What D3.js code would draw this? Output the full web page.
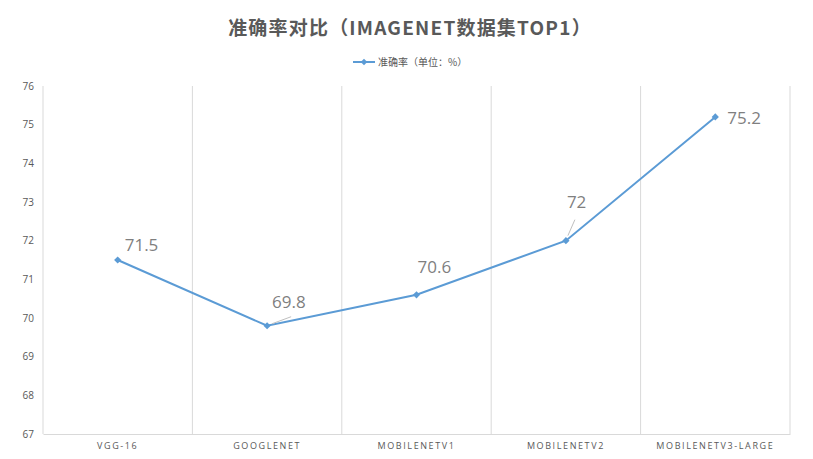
<!DOCTYPE html>
<html>
<head>
<meta charset="utf-8">
<script src="https://cdn.jsdelivr.net/npm/d3@7"></script>
<style>
  body { margin: 0; background: #fff; }
  svg { display: block; font-family: "Noto Sans CJK SC", "Open Sans", sans-serif; }
</style>
</head>
<body>
<script>
// data
var models = ["VGG-16", "GOOGLENET", "MOBILENETV1", "MOBILENETV2", "MOBILENETV3-LARGE"];
var accuracy = [71.5, 69.8, 70.6, 72, 75.2];
var yTicks = [67, 68, 69, 70, 71, 72, 73, 74, 75, 76];

var width = 813, height = 459;
var margin = {top: 86, right: 23, bottom: 25, left: 43};

var svg = d3.select("body").append("svg")
  .attr("width", width)
  .attr("height", height);

var x = d3.scaleBand()
  .domain(models)
  .range([margin.left, width - margin.right]);

var y = d3.scaleLinear()
  .domain([67, 76])
  .range([height - margin.bottom, margin.top]);

// title
svg.append("text")
  .attr("x", 410).attr("y", 35)
  .attr("text-anchor", "middle")
  .attr("font-size", 19).attr("font-weight", "bold")
  .attr("fill", "#595959")
  .attr("letter-spacing", 1.2)
  .text("准确率对比（IMAGENET数据集TOP1）");

// legend
var diamond = d3.symbol(d3.symbolSquare, 22)();
var lg = svg.append("g").attr("transform", "translate(353,62)");
lg.append("line").attr("x1", 0).attr("x2", 22).attr("stroke", "#5b9bd5").attr("stroke-width", 2);
lg.append("path").attr("d", diamond).attr("transform", "translate(11,0) rotate(45)").attr("fill", "#5b9bd5");
lg.append("text").attr("x", 25).attr("y", 4).attr("font-size", 10).attr("fill", "#595959").text("准确率（单位：%）");

// vertical gridlines at band edges
var edges = models.map(function (m) { return x(m); }).concat([x.range()[1]]);
svg.selectAll(".vgrid").data(edges).enter().append("line")
  .attr("class", "vgrid")
  .attr("x1", function (d) { return d; }).attr("x2", function (d) { return d; })
  .attr("y1", y(76)).attr("y2", y(67))
  .attr("stroke", "#d9d9d9").attr("stroke-width", 1);

// x axis
var xAxis = svg.append("g")
  .attr("transform", "translate(0," + y(67) + ")")
  .call(d3.axisBottom(x).tickSize(0).tickPadding(9));
xAxis.select(".domain").attr("stroke", "#d9d9d9");
xAxis.selectAll("text")
  .attr("font-size", 9).attr("fill", "#595959")
  .attr("letter-spacing", 1.6)
  .attr("font-family", "Open Sans, sans-serif");

// y axis
var yAxis = svg.append("g")
  .attr("transform", "translate(" + (margin.left - 9) + ",0)")
  .call(d3.axisLeft(y).tickValues(yTicks).tickSize(0).tickPadding(0));
yAxis.select(".domain").remove();
yAxis.selectAll("text")
  .attr("font-size", 10).attr("fill", "#595959")
  .attr("font-family", "Open Sans, sans-serif");

// line
var cx = function (i) { return x(models[i]) + x.bandwidth() / 2; };
svg.append("path")
  .datum(accuracy)
  .attr("fill", "none")
  .attr("stroke", "#5b9bd5")
  .attr("stroke-width", 2)
  .attr("d", d3.line().x(function (d, i) { return cx(i); }).y(function (d) { return y(d); }));

svg.selectAll(".pt").data(accuracy).enter().append("path")
  .attr("class", "pt")
  .attr("d", d3.symbol(d3.symbolSquare, 26)())
  .attr("transform", function (d, i) { return "translate(" + cx(i) + "," + y(d) + ") rotate(45)"; })
  .attr("fill", "#5b9bd5");

// data labels (offsets from point) and leader lines
var labelOff = [[7, -9], [5, -18], [1, -22], [1, -33], [12, 7]];
var leader = [null, [[5, -2], [24, -9]], null, [[2, -5], [9, -21]], null];
var leadIdx = d3.range(accuracy.length).filter(function (i) { return leader[i]; });
svg.selectAll(".lead").data(leadIdx).enter().append("line")
  .attr("class", "lead")
  .attr("x1", function (i) { return cx(i) + leader[i][0][0]; })
  .attr("y1", function (i) { return y(accuracy[i]) + leader[i][0][1]; })
  .attr("x2", function (i) { return cx(i) + leader[i][1][0]; })
  .attr("y2", function (i) { return y(accuracy[i]) + leader[i][1][1]; })
  .attr("stroke", "#bfbfbf").attr("stroke-width", 1);

svg.selectAll(".lbl").data(accuracy).enter().append("text")
  .attr("class", "lbl")
  .attr("x", function (d, i) { return cx(i) + labelOff[i][0]; })
  .attr("y", function (d, i) { return y(d) + labelOff[i][1]; })
  .attr("font-size", 17)
  .attr("fill", "#7f7f7f")
  .attr("font-family", "Open Sans, sans-serif")
  .text(function (d) { return d; });
</script>
</body>
</html>
